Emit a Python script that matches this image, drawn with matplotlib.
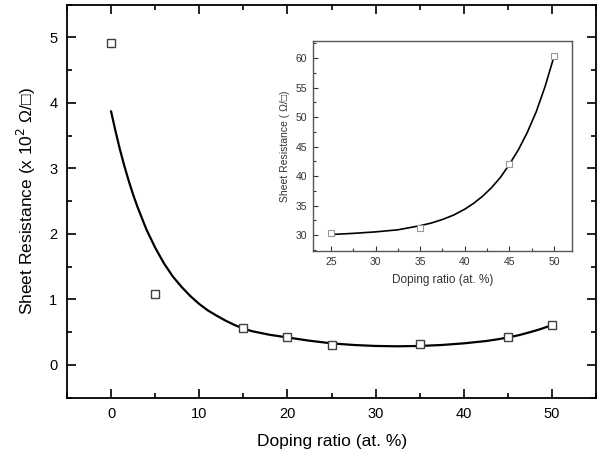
import matplotlib
matplotlib.use("Agg")
import matplotlib.pyplot as plt
from matplotlib.ticker import MultipleLocator

plt.rcParams['font.family'] = ['Liberation Sans', 'DejaVu Sans']

# Main data (x 10^2 Ohm/sq)
doping = [0, 5, 15, 20, 25, 35, 45, 50]
resistance = [4.92, 1.08, 0.56, 0.43, 0.30, 0.32, 0.42, 0.61]

# Fitted curve
fit_x = [0, 0.5, 1, 1.5, 2, 2.5, 3, 4, 5, 6, 7, 8, 9, 10, 11, 12, 13, 14, 15,
         16, 18, 20, 22.5, 25, 27.5, 30, 32.5, 35, 37.5, 40, 42.5, 43.75, 45,
         46.25, 47.5, 48.75, 50]
fit_y = [3.87, 3.57, 3.29, 3.04, 2.81, 2.60, 2.41, 2.07, 1.79, 1.55, 1.35,
         1.19, 1.05, 0.93, 0.83, 0.75, 0.675, 0.61, 0.555, 0.515, 0.46, 0.42,
         0.37, 0.33, 0.305, 0.29, 0.285, 0.29, 0.305, 0.33, 0.365, 0.39, 0.42,
         0.455, 0.50, 0.55, 0.61]

# Inset data (Ohm/sq)
inset_x = [25, 35, 45, 50]
inset_y = [30.3, 31.2, 42.0, 60.4]
inset_fit_x = [25, 27.5, 30, 32.5, 35, 36.25, 37.5, 38.75, 40, 41, 42, 43, 44,
               45, 46, 47, 48, 49, 50]
inset_fit_y = [30.1, 30.3, 30.55, 30.9, 31.6, 32.05, 32.65, 33.4, 34.4, 35.4,
               36.6, 38.05, 39.8, 42.0, 44.45, 47.4, 50.9, 55.2, 60.3]

fig = plt.figure(figsize=(6.02, 4.54), dpi=100)
ax = fig.add_axes([0.1113, 0.124, 0.879, 0.8656])
ax.plot(fit_x, fit_y, color='black', lw=1.6, zorder=2)
ax.plot(doping, resistance, ls='none', marker='s', ms=6.2, mfc='white',
        mec='#404040', mew=1.0, zorder=3)
ax.set_xlim(-5, 55)
ax.set_ylim(-0.5, 5.5)
ax.xaxis.set_major_locator(MultipleLocator(10))
ax.xaxis.set_minor_locator(MultipleLocator(5))
ax.yaxis.set_major_locator(MultipleLocator(1))
ax.yaxis.set_minor_locator(MultipleLocator(0.5))
ax.tick_params(which='both', direction='in', top=True, right=True,
               labelsize=10.5, width=1.2, pad=7)
ax.tick_params(which='major', length=6.5)
ax.tick_params(which='minor', length=3.5)
for s in ax.spines.values():
    s.set_linewidth(1.3)
ax.set_xlabel('Doping ratio (at. %)', fontsize=12.5, labelpad=9)
ax.set_ylabel('Sheet Resistance (x 10$^2$ \u03a9/\u25a1)', fontsize=12.5,
              labelpad=8)

# Inset
ai = fig.add_axes([0.520, 0.447, 0.430, 0.4627])
ai.plot(inset_fit_x, inset_fit_y, color='black', lw=1.2, zorder=2)
ai.plot(inset_x, inset_y, ls='none', marker='s', ms=4, mfc='white',
        mec='#999999', mew=0.8, zorder=3)
ai.set_xlim(23, 52)
ai.set_ylim(27.3, 62.9)
ai.xaxis.set_major_locator(MultipleLocator(5))
ai.xaxis.set_minor_locator(MultipleLocator(2.5))
ai.yaxis.set_major_locator(MultipleLocator(5))
ai.yaxis.set_minor_locator(MultipleLocator(2.5))
ai.tick_params(which='both', direction='in', labelsize=7.5, colors='#333333',
               width=0.8, pad=4)
ai.tick_params(which='major', length=3.5)
ai.tick_params(which='minor', length=2)
for s in ai.spines.values():
    s.set_linewidth(1.0)
    s.set_color('#555555')
ai.set_xlabel('Doping ratio (at. %)', fontsize=8.5, color='#333333', labelpad=5)
ai.set_ylabel('Sheet Resistance ( \u03a9/\u25a1)', fontsize=7.5,
              color='#333333', labelpad=4)

fig.savefig('out.png', dpi=100)
